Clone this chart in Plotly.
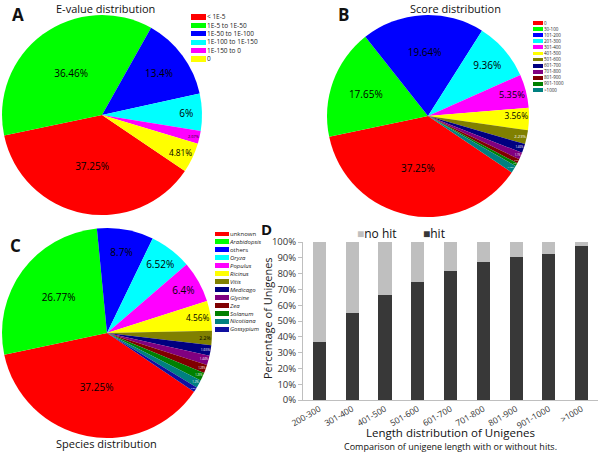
import plotly.graph_objects as go

# ---------------- data ----------------
evalue_labels = ["< 1E-5", "1E-5 to 1E-50", "1E-50 to 1E-100", "1E-100 to 1E-150", "1E-150 to 0", "0"]
evalue_pct = [37.25, 36.46, 13.4, 6, 2.07, 4.81]
evalue_colors = ["#ff0000", "#00ff00", "#0000ff", "#00ffff", "#ff00ff", "#ffff00"]

score_labels = ["0", "30-100", "101-200", "201-300", "301-400", "401-500", "501-600",
                "601-700", "701-800", "801-900", "901-1000", ">1000"]
score_pct = [37.25, 17.65, 19.64, 9.36, 5.35, 3.56, 2.23, 1.46, 1.1, 0.7, 0.52, 1.18]
score_colors = ["#ff0000", "#00ff00", "#0000ff", "#00ffff", "#ff00ff", "#ffff00", "#808000",
                "#000080", "#800080", "#800000", "#008000", "#008080"]

species_labels = ["unknown", "Arabidopsis", "others", "Oryza", "Populus", "Ricinus", "Vitis",
                  "Medicago", "Glycine", "Zea", "Solanum", "Nicotiana", "Gossypium"]
species_italic = [False, True, False, True, True, True, True, True, True, True, True, True, True]
species_pct = [37.25, 26.77, 8.7, 6.52, 6.4, 4.56, 2.2, 1.65, 1.44, 1.28, 1.25, 1.2, 0.78]
species_colors = ["#ff0000", "#00ff00", "#0000ff", "#00ffff", "#ff00ff", "#ffff00", "#808000",
                  "#000080", "#800080", "#800000", "#008000", "#008080", "#1010a0"]

length_bins = ["200-300", "301-400", "401-500", "501-600", "601-700", "701-800",
               "801-900", "901-1000", ">1000"]
hit_pct = [36.8, 55.0, 66.6, 74.8, 81.8, 87.1, 90.5, 92.4, 97.7]
nohit_pct = [63.2, 45.0, 33.4, 25.2, 18.2, 12.9, 9.5, 7.6, 2.3]
hit_color = "#383838"
nohit_color = "#bfbfbf"

FONT = "Open Sans"

def pct_text(vals):
    return [f"{v:g}%" for v in vals]

def text_colors(vals, light_below):
    return ["#ffffff" if v < light_below else "#000000" for v in vals]

def text_sizes(vals):
    out = []
    for v in vals:
        if v >= 3:
            out.append(10)
        elif v >= 2:
            out.append(8)
        elif v >= 1.4:
            out.append(7)
        else:
            out.append(6)
    return out

fig = go.Figure()

def H(y):  # pixel from top -> paper
    return 1 - y / 454.0

def W(x):
    return x / 600.0

# ---------------- pies ----------------
fig.add_trace(go.Pie(
    labels=evalue_labels, values=evalue_pct, text=pct_text(evalue_pct), textinfo="text",
    sort=False, direction="clockwise", rotation=124,
    marker=dict(colors=evalue_colors, line=dict(width=0)),
    textposition="inside", insidetextorientation="horizontal",
    textfont=dict(family=FONT, size=text_sizes(evalue_pct), color="#000000"),
    domain=dict(x=[W(2), W(202)], y=[H(215), H(15)]),
    showlegend=False, hoverinfo="label+percent",
))

fig.add_trace(go.Pie(
    labels=score_labels, values=score_pct, text=pct_text(score_pct), textinfo="text",
    sort=False, direction="clockwise", rotation=124,
    marker=dict(colors=score_colors, line=dict(width=0)),
    textposition="inside", insidetextorientation="horizontal",
    textfont=dict(family=FONT, size=text_sizes(score_pct), color=text_colors(score_pct, 3)),
    domain=dict(x=[W(327), W(529)], y=[H(217), H(15)]),
    showlegend=False, hoverinfo="label+percent",
))

fig.add_trace(go.Pie(
    labels=species_labels, values=species_pct, text=pct_text(species_pct), textinfo="text",
    sort=False, direction="clockwise", rotation=124,
    marker=dict(colors=species_colors, line=dict(width=0)),
    textposition="inside", insidetextorientation="horizontal",
    textfont=dict(family=FONT, size=text_sizes(species_pct), color=text_colors(species_pct, 2)),
    domain=dict(x=[W(2), W(212)], y=[H(438), H(228)]),
    showlegend=False, hoverinfo="label+percent",
))

# ---------------- manual pie legends (swatch bars + tick labels) ----------------
def add_swatch_legend(idx, labels, ticktext, colors, xdom, ydom, fsize):
    xa = "x" + str(idx)
    ya = "y" + str(idx)
    fig.add_trace(go.Bar(
        x=[1] * len(labels), y=labels, orientation="h",
        marker=dict(color=colors, line=dict(width=0)), width=0.62,
        xaxis=xa, yaxis=ya, showlegend=False, hoverinfo="y",
    ))
    fig.update_layout(**{
        "xaxis" + str(idx): dict(domain=xdom, range=[0, 1], visible=False, anchor=ya,
                                 fixedrange=True, automargin=False),
        "yaxis" + str(idx): dict(domain=ydom, anchor=xa, side="right", autorange="reversed",
                                 type="category", showgrid=False, showline=False, zeroline=False,
                                 ticks="", tickvals=labels, ticktext=ticktext, automargin=False,
                                 tickfont=dict(family=FONT, size=fsize, color="#222222"),
                                 fixedrange=True),
    })

add_swatch_legend(2, evalue_labels, evalue_labels, evalue_colors,
                  [W(191), W(206)], [H(63.2), H(12.8)], 6.5)
add_swatch_legend(3, score_labels, score_labels, score_colors,
                  [W(533), W(543)], [H(93), H(20)], 4.5)
add_swatch_legend(4, species_labels,
                  [f"<i>{s}</i>" if it else s for s, it in zip(species_labels, species_italic)],
                  species_colors, [W(215), W(229)], [H(333.3), H(230)], 6)

# ---------------- panel D bars ----------------
fig.add_trace(go.Bar(x=length_bins, y=hit_pct, name="hit", marker=dict(color=hit_color, line=dict(width=0)),
                     width=0.4, xaxis="x", yaxis="y", showlegend=False))
fig.add_trace(go.Bar(x=length_bins, y=nohit_pct, name="no hit", marker=dict(color=nohit_color, line=dict(width=0)),
                     width=0.4, xaxis="x", yaxis="y", showlegend=False))

fig.update_layout(
    template="none",
    barmode="stack",
    width=600, height=454,
    margin=dict(l=0, r=0, t=0, b=0, pad=0),
    paper_bgcolor="white", plot_bgcolor="white",
    font=dict(family=FONT, color="#222222"),
    xaxis=dict(domain=[W(303), W(598)], anchor="y", showline=True, linecolor="#bfbfbf",
               linewidth=1, ticks="", showgrid=False, tickangle=-30, automargin=False,
               tickfont=dict(family=FONT, size=8.5, color="#333333")),
    yaxis=dict(domain=[H(400), H(242)], anchor="x", range=[0, 100], dtick=10, ticksuffix="%",
               showline=True, linecolor="#bfbfbf", linewidth=1, ticks="outside", ticklen=4,
               tickcolor="#bfbfbf", showgrid=False, zeroline=False, automargin=False,
               tickfont=dict(family=FONT, size=9.5, color="#333333")),
    showlegend=False,
)

ann = [
    dict(text="<b>A</b>", x=W(10), y=H(1), xanchor="left", yanchor="top", size=17),
    dict(text="<b>B</b>", x=W(336), y=H(1), xanchor="left", yanchor="top", size=17),
    dict(text="<b>C</b>", x=W(8), y=H(232), xanchor="left", yanchor="top", size=17),
    dict(text="<b>D</b>", x=W(259), y=H(217), xanchor="left", yanchor="top", size=15),
    dict(text="E-value distribution", x=W(105), y=H(-1), xanchor="center", yanchor="top", size=11),
    dict(text="Score distribution", x=W(455), y=H(-1), xanchor="center", yanchor="top", size=11),
    dict(text="Species distribution", x=W(106), y=H(453), xanchor="center", yanchor="bottom", size=11),
    dict(text="Length distribution of Unigenes", x=W(450), y=H(423), xanchor="center", yanchor="top", size=11.5),
    dict(text="Comparison of unigene length with or without hits.", x=W(450), y=H(455),
         xanchor="center", yanchor="bottom", size=9),
    dict(text=f"<span style='color:{nohit_color}'>■</span>no hit", x=W(355), y=H(223),
         xanchor="left", yanchor="top", size=12),
    dict(text=f"<span style='color:{hit_color}'>■</span>hit", x=W(421), y=H(223),
         xanchor="left", yanchor="top", size=12),
]
for a in ann:
    fig.add_annotation(text=a["text"], x=a["x"], y=a["y"], xref="paper", yref="paper",
                       xanchor=a["xanchor"], yanchor=a["yanchor"], showarrow=False,
                       font=dict(family=FONT, size=a["size"], color="#111111"))

fig.add_annotation(text="Percentage of Unigenes", x=W(267), y=H(318), xref="paper", yref="paper",
                   textangle=-90, showarrow=False, xanchor="center", yanchor="middle",
                   font=dict(family=FONT, size=11, color="#222222"))

fig.write_html("out.html", config={"displayModeBar": False},
               post_script="document.body.style.margin='0';")
